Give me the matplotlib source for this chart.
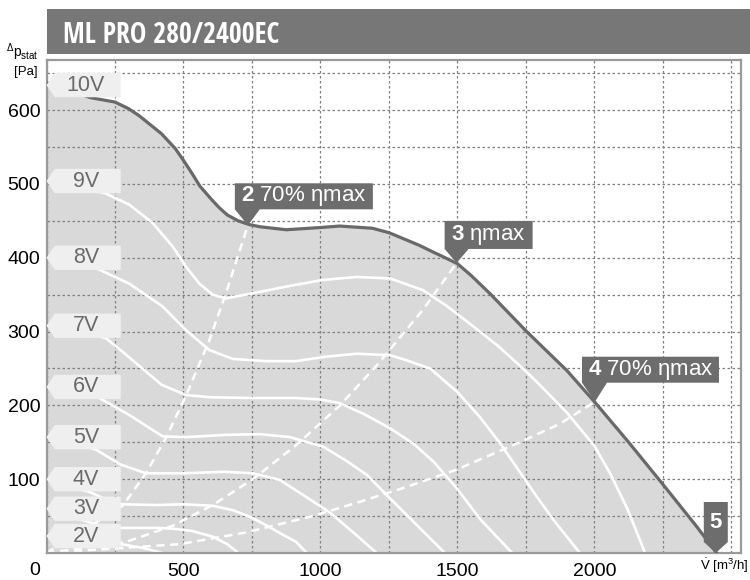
import matplotlib
matplotlib.use('Agg')
import matplotlib.pyplot as plt
from matplotlib.patches import Polygon, Rectangle
import matplotlib.transforms as mtransforms

plt.rcParams['font.family'] = ['Liberation Sans', 'DejaVu Sans']
plt.rcParams['mathtext.fontset'] = 'custom'
plt.rcParams['mathtext.rm'] = 'Liberation Sans'
plt.rcParams['mathtext.it'] = 'Liberation Sans'
plt.rcParams['mathtext.bf'] = 'Liberation Sans:bold'

title = 'ML PRO 280/2400EC'

# fan curves: flow [m3/h] -> static pressure [Pa]
q_10v = [0, 100, 160, 250, 300, 340, 380, 420, 470, 500, 530, 560, 600, 630, 660, 700, 740, 780, 875,
         1000, 1070, 1190, 1250, 1315, 1360, 1410, 1450, 1500, 1550, 1620, 1750, 1900, 2000, 2125,
         2250, 2375, 2446]
p_10v = [637, 625, 617, 611, 602, 592, 580, 568, 548, 532, 515, 497, 480, 468, 458, 450, 445, 442, 438,
         441, 443, 440, 434, 424, 417, 408, 401, 392, 376, 351, 301, 247, 205, 150,
         93, 35, 0]

q_9v = [0, 100, 217, 302, 388, 461, 509, 558, 607, 655, 753, 889, 1010, 1132, 1254, 1375, 1460, 1558,
        1650, 1739, 1800, 1900, 2000, 2060, 2120, 2185]
p_9v = [504, 498, 487, 472, 447, 415, 388, 365, 350, 345, 352, 362, 370, 374, 372, 356, 335, 307,
        280, 250, 228, 190, 145, 106, 60, 0]

q_8v = [0, 100, 181, 302, 424, 509, 594, 680, 800, 911, 1020, 1132, 1254, 1315, 1400, 1500, 1580, 1655,
        1777, 1850, 1947]
p_8v = [400, 393, 386, 365, 334, 302, 275, 263, 260, 260, 266, 270, 268, 261, 250, 218, 185, 149,
        83, 45, 0]

q_7v = [0, 100, 217, 280, 340, 420, 509, 600, 750, 911, 1000, 1071, 1160, 1254, 1340, 1412, 1497, 1585, 1700]
p_7v = [308, 302, 291, 272, 253, 228, 214, 211, 210, 210, 208, 203, 188, 169, 148, 124, 88, 45, 0]

q_6v = [0, 100, 193, 302, 424, 509, 650, 780, 889, 1010, 1090, 1169, 1254, 1327, 1400, 1454]
p_6v = [225, 218, 210, 187, 158, 157, 160, 161, 157, 144, 126, 106, 74, 47, 20, 0]

q_5v = [0, 90, 181, 270, 363, 500, 650, 753, 852, 889, 960, 1034, 1132, 1205]
p_5v = [157, 150, 140, 120, 108, 108, 110, 108, 99, 90, 73, 55, 24, 0]

q_4v = [0, 80, 156, 220, 278, 400, 500, 607, 680, 743, 800, 852, 911, 950]
p_4v = [100, 90, 83, 72, 66, 65, 66, 64, 58, 49, 38, 27, 15, 0]

q_3v = [0, 100, 200, 272, 400, 461, 530, 607, 660, 700]
p_3v = [60, 48, 37, 34, 34, 33, 30, 22, 12, 0]

q_2v = [0, 100, 200, 272, 350, 424]
p_2v = [22, 17, 14, 12, 7, 0]

# system curves through the marked operating points
q_sys2 = [0, 278, 363, 436, 509, 594, 655, 735]
p_sys2 = [0, 64, 108, 156, 213, 288, 352, 444]
q_sys3 = [0, 290, 461, 607, 753, 911, 1071, 1205, 1375, 1497]
p_sys3 = [0, 15, 37, 65, 100, 146, 200, 254, 330, 393]
q_sys4 = [0, 487, 730, 961, 1132, 1302, 1497, 1703, 1874, 2002]
p_sys4 = [0, 12, 28, 49, 68, 88, 113, 146, 175, 205]

tag_labels = ['10V', '9V', '8V', '7V', '6V', '5V', '4V', '3V', '2V']
tag_levels = [634, 504, 400, 308, 225, 157, 100, 60, 23]

point_labels = [r'$\mathbf{2}$ 70% ηmax', r'$\mathbf{3}$ ηmax', r'$\mathbf{4}$ 70% ηmax', r'$\mathbf{5}$']
point_q = [735, 1497, 2002, 2443]
point_p = [444, 393, 205, 0]

x_ticks = list(range(0, 2501, 250))
y_ticks = list(range(0, 651, 50))
x_labels = ['', '', '500', '', '1000', '', '1500', '', '2000', '', '']
y_labels = ['', '', '100', '', '200', '', '300', '', '400', '', '500', '', '600', '']

W, H = 750, 580
fig = plt.figure(figsize=(W / 100, H / 100), dpi=100)
ax = fig.add_axes([46.5 / W, 1 - 553 / H, (741 - 46.5) / W, (553 - 60) / H])
ax.set_xlim(0, 2535)
ax.set_ylim(0, 668)

ax.fill_between(q_10v, p_10v, 0, color='#d9d9d9', lw=0, zorder=0)
ax.set_axisbelow(True)
ax.grid(True, color='#7f7f7f', linestyle=(0, (2, 2)), linewidth=0.9)

for q, p in [(q_9v, p_9v), (q_8v, p_8v), (q_7v, p_7v), (q_6v, p_6v), (q_5v, p_5v),
             (q_4v, p_4v), (q_3v, p_3v), (q_2v, p_2v)]:
    ax.plot(q, p, color='white', lw=1.9, zorder=2, solid_capstyle='round', solid_joinstyle='round')
for q, p in [(q_sys2, p_sys2), (q_sys3, p_sys3), (q_sys4, p_sys4)]:
    ax.plot(q, p, color='white', lw=1.8, dashes=(3.3, 2.2), zorder=2)
ax.plot(q_10v, p_10v, color='#696969', lw=2.3, zorder=3, solid_joinstyle='round')

ax.set_xticks(x_ticks)
ax.set_xticklabels(x_labels)
ax.set_yticks(y_ticks)
ax.set_yticklabels(y_labels)
ax.tick_params(axis='both', length=0, labelsize=14)
ax.tick_params(axis='x', pad=7)
ax.tick_params(axis='y', pad=4.5)
ax.annotate('0', xy=(0, 0), xytext=(-8.5, -12.5), textcoords='offset points',
            ha='center', va='center', fontsize=14, annotation_clip=False)
for s in ax.spines.values():
    s.set_color('#9a9a9a')
    s.set_linewidth(1.6)

# voltage tags on the left
h = 16.5
for lab, yc in zip(tag_labels, tag_levels):
    ax.add_patch(Polygon([(0, yc), (30, yc + h), (271, yc + h), (271, yc - h), (30, yc - h)],
                         closed=True, fc='#efefef', ec='none', zorder=4, clip_on=False))
    ax.text(144, yc, lab, ha='center', va='center', fontsize=15.5, color='#6a6a6a', zorder=5)

# operating point markers (shapes in pixels, relative to the tip)
shapes = [
    [(-13, 42), (125, 42), (125, 16), (12, 16), (0, 0), (-13, 16)],
    [(-12, 42), (76, 42), (76, 14), (12, 14), (0, 0), (-12, 14)],
    [(-13, 45), (124, 45), (124, 19), (12, 19), (0, 0), (-13, 19)],
    [(-12, 51), (12, 51), (12, 11), (0, 0), (-12, 11)],
]
text_pos = [(-7, 29), (-6, 28), (-7, 32), (0, 31)]
for lab, q, p, verts, (tx, ty) in zip(point_labels, point_q, point_p, shapes, text_pos):
    trans = fig.dpi_scale_trans + mtransforms.ScaledTranslation(q, p, ax.transData)
    ax.add_patch(Polygon([(vx / 100, vy / 100) for vx, vy in verts], closed=True,
                         fc='#6d6d6d', ec='none', transform=trans, zorder=6, clip_on=False))
    ax.text(tx / 100, ty / 100, lab, transform=trans, color='white', fontsize=16,
            ha='center' if tx == 0 else 'left', va='center', zorder=7)

# header bar
fig.patches.append(Rectangle((47 / W, 1 - 54 / H), (W - 47) / W, 45 / H,
                             transform=fig.transFigure, fc='#777777', ec='none'))
fig.text(63 / W, 1 - 35.5 / H, title, color='white', fontsize=20, fontweight='bold',
         family=['Open Sans Condensed', 'Liberation Sans'], va='center', ha='left')

# axis captions
fig.text(39 / W, 1 - 52 / H, r'$^{\Delta}$p$_{\mathregular{stat}}$', fontsize=10, ha='right', va='center')
fig.text(38 / W, 1 - 71.5 / H, '[Pa]', fontsize=9.5, ha='right', va='center')
fig.text(749 / W, 1 - 566 / H, r'$\dot{\mathrm{V}}$ [m$^{3}$/h]', fontsize=9.5, ha='right', va='center')

fig.savefig('out.png', dpi=100)
